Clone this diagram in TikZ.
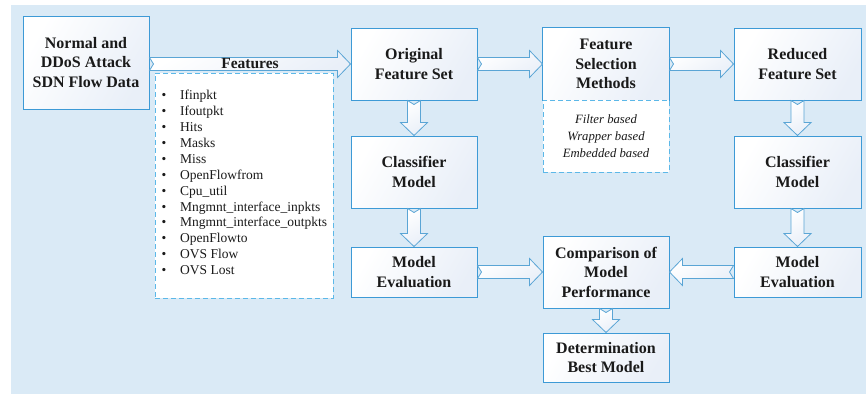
\documentclass[tikz,border=0pt]{standalone}
\usepackage{fontspec}
\setmainfont{Liberation Serif}
\usetikzlibrary{calc}

\definecolor{bg}{HTML}{DAEAF6}
\definecolor{edge}{HTML}{3D9AD6}
\definecolor{dashblue}{HTML}{5CB8E8}
\definecolor{arrowedge}{HTML}{5AA5D5}
\definecolor{shadeend}{HTML}{E9EFF8}
\definecolor{ink}{HTML}{1A1A1A}

\tikzset{
  stage/.style={draw=edge, line width=1pt, left color=white, right color=shadeend,
    shading angle=60, align=center, inner sep=0pt, text=ink,
    font=\bfseries\fontsize{16}{19.5}\selectfont},
  dashbox/.style={draw=dashblue, line width=1pt, dash pattern=on 5pt off 3pt,
    fill=white, inner sep=0pt},
  fatarrow/.style={draw=arrowedge, line width=0.8pt, left color=white,
    right color=shadeend, shading angle=30, line join=miter},
}

% block arrow from #1 to #2 with a notched tail
\newcommand\blockarrow[2]{%
  \coordinate (ba-s) at (#1);
  \coordinate (ba-e) at (#2);
  \coordinate (ba-h) at ($(ba-e)!13pt!(ba-s)$);
  \draw[fatarrow]
    ($(ba-s)!6.5pt!90:(ba-e)$) -- ($(ba-h)!6.5pt!90:(ba-e)$)
    -- ($(ba-h)!13.5pt!90:(ba-e)$) -- (ba-e)
    -- ($(ba-h)!13.5pt!-90:(ba-e)$) -- ($(ba-h)!6.5pt!-90:(ba-e)$)
    -- ($(ba-s)!6.5pt!-90:(ba-e)$) -- ($(ba-s)!4pt!(ba-e)$) -- cycle;
}

\newcommand\featitem[1]{\makebox[19pt][l]{\hspace{0.5pt}\textbullet}#1}

\begin{document}
\begin{tikzpicture}[x=1pt,y=-1pt]
  \useasboundingbox (0,0) rectangle (866,394);
  \fill[bg] (11,5) rectangle (866,394);

  % process boxes
  \node[stage, minimum width=126pt, minimum height=93pt] (normal) at (86,62.5)
    {Normal and\\DDoS Attack\\SDN Flow Data};
  \node[stage, minimum width=126pt, minimum height=72pt] (orig) at (414,64)
    {Original\\Feature Set};
  \node[stage, minimum width=126pt, minimum height=72pt] (clsl) at (414,172)
    {Classifier\\Model};
  \node[stage, minimum width=126pt, minimum height=50pt] (mel) at (414,272)
    {Model\\Evaluation};

  % feature selection: solid header over a dashed list of methods
  \node[stage, draw=none, minimum width=126pt, minimum height=72pt] (fs) at (606,64)
    {Feature\\Selection\\Methods};
  \draw[edge, line width=1pt] (fs.south west) -- (fs.north west) -- (fs.north east) -- (fs.south east);
  \node[dashbox, minimum width=126pt, minimum height=72pt, align=center, text=ink,
    font=\itshape\fontsize{12.7}{17}\selectfont] (fsm) at (606,136)
    {Filter based\\Wrapper based\\Embedded based};

  \node[stage, minimum width=126pt, minimum height=72pt] (cmp) at (606,272)
    {Comparison of\\Model\\Performance};
  \node[stage, minimum width=126pt, minimum height=49pt] (det) at (606,357.5)
    {Determination\\Best Model};

  \node[stage, minimum width=127pt, minimum height=72pt] (red) at (797.5,64)
    {Reduced\\Feature Set};
  \node[stage, minimum width=127pt, minimum height=72pt] (clsr) at (797.5,172)
    {Classifier\\Model};
  \node[stage, minimum width=127pt, minimum height=50pt] (mer) at (797.5,272)
    {Model\\Evaluation};

  % feature list
  \node[dashbox, minimum width=178pt, minimum height=225pt] (feats) at (244,185.5) {};
  \node[anchor=north west, inner sep=0pt, align=left, text=ink,
    font=\fontsize{13.5}{15.9}\selectfont] (featlist) at (161,90)
    {\featitem{Ifinpkt}\\
     \featitem{Ifoutpkt}\\
     \featitem{Hits}\\
     \featitem{Masks}\\
     \featitem{Miss}\\
     \featitem{OpenFlowfrom}\\
     \featitem{Cpu\_util}\\
     \featitem{Mngmnt\_interface\_inpkts}\\
     \featitem{Mngmnt\_interface\_outpkts}\\
     \featitem{OpenFlowto}\\
     \featitem{OVS Flow}\\
     \featitem{OVS Lost}};

  % connectors
  \blockarrow{normal.east |- orig.west}{orig.west}
  \node[text=ink, inner sep=0pt, font=\bfseries\fontsize{15.5}{16}\selectfont] (featlbl)
    at ($(normal.east |- orig.west)!0.5!(orig.west)$) {Features};
  \blockarrow{orig.east}{fs.west}
  \blockarrow{fs.east}{red.west}
  \blockarrow{orig.south}{clsl.north}
  \blockarrow{clsl.south}{mel.north}
  \blockarrow{red.south}{clsr.north}
  \blockarrow{clsr.south}{mer.north}
  \blockarrow{mel.east}{cmp.west}
  \blockarrow{mer.west}{cmp.east}
  \blockarrow{cmp.south}{det.north}
\end{tikzpicture}
\end{document}
